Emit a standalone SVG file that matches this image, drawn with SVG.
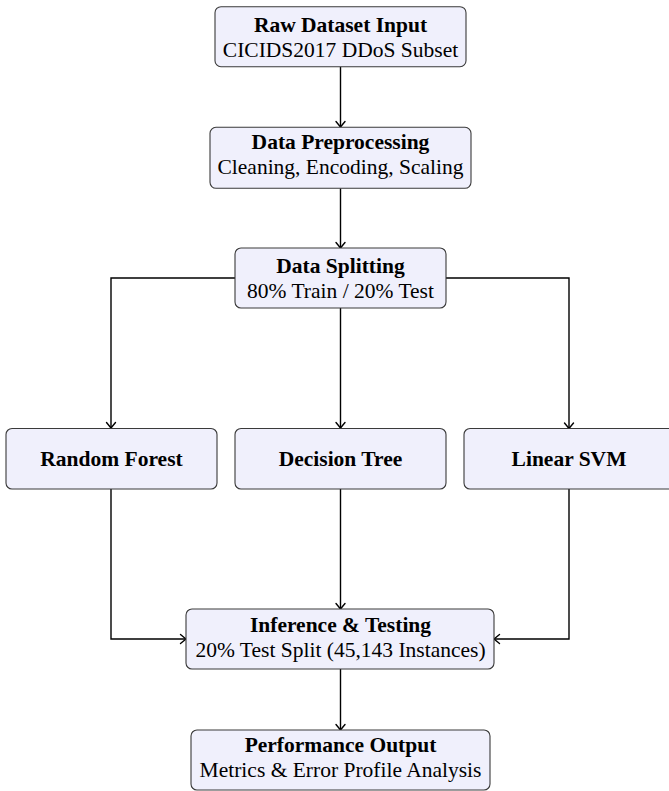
<svg xmlns="http://www.w3.org/2000/svg" width="669" height="791" viewBox="0 0 669 791">
<style>
.box{fill:#f0f0fc;stroke:#3a3a3a;stroke-width:1.1}
.t{font-family:"Liberation Serif","Times New Roman",serif;font-size:21.5px;fill:#000;text-anchor:middle}
.b{font-weight:bold}
.c{fill:none;stroke:#000;stroke-width:1.4}
</style>
<defs>
<marker id="ah" markerUnits="userSpaceOnUse" markerWidth="14" markerHeight="14" refX="0" refY="0" viewBox="-7 -7 14 14" orient="auto" overflow="visible">
<path d="M-5.5,-4.5 Q-1.5,-1.2 0,0 Q-1.5,1.2 -5.5,4.5" fill="none" stroke="#000" stroke-width="1.4" stroke-linecap="round" stroke-linejoin="round"/>
</marker>
</defs>
<rect width="669" height="791" fill="#fff"/>
<g id="connectors">
<path class="c" d="M340.5,66.7V127" marker-end="url(#ah)"/>
<path class="c" d="M340.5,188.3V248" marker-end="url(#ah)"/>
<path class="c" d="M235,278H111V428" marker-end="url(#ah)"/>
<path class="c" d="M340.5,308V428" marker-end="url(#ah)"/>
<path class="c" d="M446,278H569V428.5" marker-end="url(#ah)"/>
<path class="c" d="M111,489V639H186" marker-end="url(#ah)"/>
<path class="c" d="M340.5,489V609" marker-end="url(#ah)"/>
<path class="c" d="M569,489V639H494" marker-end="url(#ah)"/>
<path class="c" d="M340.5,669V730" marker-end="url(#ah)"/>
</g>
<g id="raw">
<rect class="box" x="215" y="6.7" width="251" height="60" rx="6"/>
<text class="t b" x="340.5" y="32">Raw Dataset Input</text>
<text class="t" x="340.5" y="57">CICIDS2017 DDoS Subset</text>
</g>
<g id="preprocess">
<rect class="box" x="210" y="127.3" width="261" height="61" rx="6"/>
<text class="t b" x="340.5" y="149">Data Preprocessing</text>
<text class="t" x="340.5" y="174">Cleaning, Encoding, Scaling</text>
</g>
<g id="split">
<rect class="box" x="235" y="248" width="211" height="60" rx="6"/>
<text class="t b" x="340.5" y="273">Data Splitting</text>
<text class="t" x="340.5" y="298">80% Train / 20% Test</text>
</g>
<g id="rf">
<rect class="box" x="6" y="428.5" width="211" height="60.5" rx="6"/>
<text class="t b" x="111.5" y="466">Random Forest</text>
</g>
<g id="dt">
<rect class="box" x="235" y="428.5" width="211" height="60.5" rx="6"/>
<text class="t b" x="340.5" y="466">Decision Tree</text>
</g>
<g id="svm">
<rect class="box" x="464" y="428.5" width="211" height="60.5" rx="6"/>
<text class="t b" x="569" y="466">Linear SVM</text>
</g>
<g id="inference">
<rect class="box" x="186" y="609" width="308" height="60" rx="6"/>
<text class="t b" x="340.5" y="632">Inference &amp; Testing</text>
<text class="t" x="340.5" y="657">20% Test Split (45,143 Instances)</text>
</g>
<g id="output">
<rect class="box" x="191" y="730" width="299" height="60" rx="6"/>
<text class="t b" x="340.5" y="752">Performance Output</text>
<text class="t" x="340.5" y="777">Metrics &amp; Error Profile Analysis</text>
</g>
</svg>
